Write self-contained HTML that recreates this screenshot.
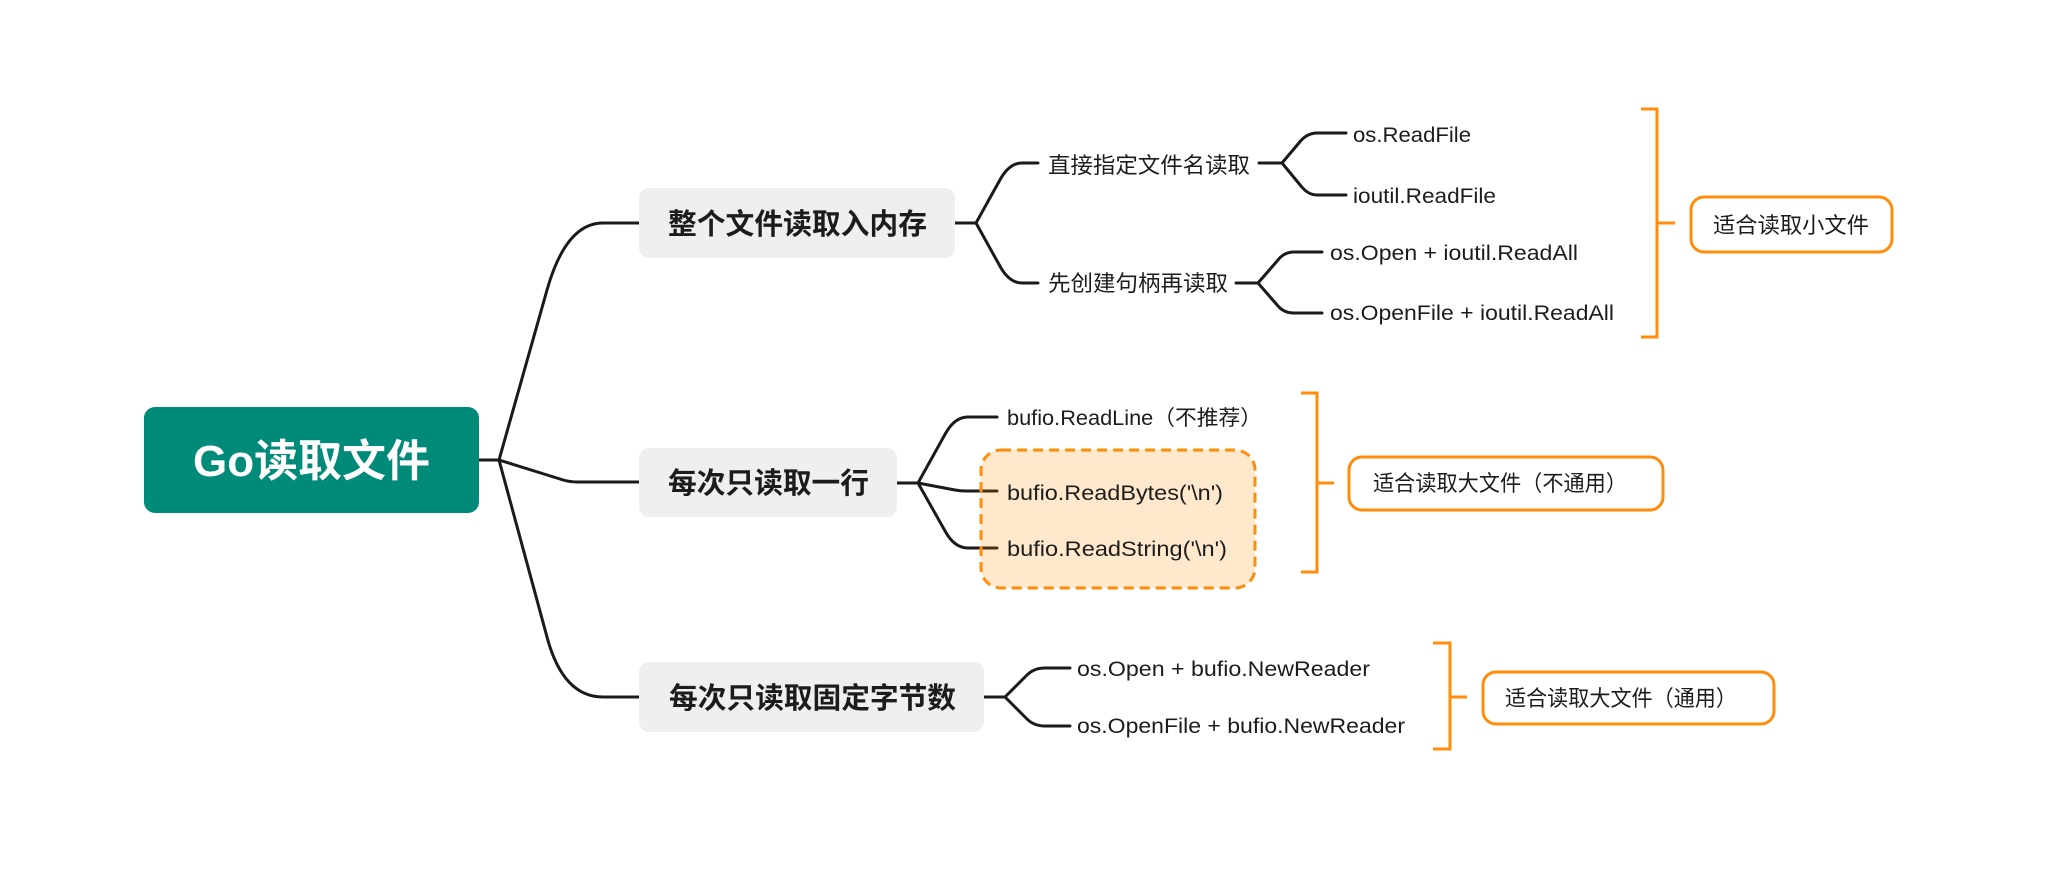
<!DOCTYPE html>
<html>
<head>
<meta charset="utf-8">
<style>
  html, body { margin: 0; padding: 0; background: #ffffff; }
  svg { display: block; }
  text { font-family: "Liberation Sans", "Noto Sans CJK SC", sans-serif; fill: #1c1c1c; }
</style>
</head>
<body>
<svg width="2054" height="880" viewBox="0 0 2054 880" xmlns="http://www.w3.org/2000/svg">
  <rect x="0" y="0" width="2054" height="880" fill="#ffffff"/>

  <!-- connectors -->
  <g fill="none" stroke="#1a1a1a" stroke-width="3" stroke-linecap="round" stroke-linejoin="round">
    <!-- root -->
    <path d="M479,460 H499"/>
    <path d="M499,460 L547,290 Q566,223 603,223 H639"/>
    <path d="M499,460 L560,479 Q568,482 578,482 H639"/>
    <path d="M499,460 L547,637 Q563,697 603,697 H639"/>

    <!-- branch 1 -->
    <path d="M955,223 H976"/>
    <path d="M976,223 L1001,178 Q1010,163 1022,163 H1038"/>
    <path d="M976,223 L1001,268 Q1010,283 1022,283 H1038"/>

    <path d="M1259,163 H1282"/>
    <path d="M1282,163 L1301,140.5 Q1308,133 1317,133 H1346"/>
    <path d="M1282,163 L1301,186 Q1308,195 1317,195 H1346"/>

    <path d="M1236,283 H1258"/>
    <path d="M1258,283 L1278,260 Q1284,252 1294,252 H1322"/>
    <path d="M1258,283 L1278,306 Q1284,313 1294,313 H1322"/>

    <!-- branch 2 -->
    <path d="M897,483 H918"/>
    <path d="M918,483 L945.5,433.5 Q954.6,417 968,417 H997"/>
    <path d="M918,483 L955,490 Q960,491 966,491 H997"/>
    <path d="M918,483 L945.5,531.75 Q954.6,548 968,548 H997"/>

    <!-- branch 3 -->
    <path d="M984,697 H1005"/>
    <path d="M1005,697 L1027,675 Q1034,668 1045,668 H1070"/>
    <path d="M1005,697 L1027,719 Q1034,726 1045,726 H1070"/>
  </g>

  <!-- root node -->
  <rect x="144" y="407" width="335" height="106" rx="11" ry="11" fill="#008a7a"/>
  <text x="193" y="476" font-size="44" font-weight="600" textLength="237" lengthAdjust="spacingAndGlyphs" style="fill:#ffffff">Go读取文件</text>

  <!-- level 1 nodes -->
  <rect x="639" y="188" width="316" height="70" rx="10" ry="10" fill="#efefef"/>
  <text x="668" y="234" font-size="29" font-weight="bold" textLength="259" lengthAdjust="spacingAndGlyphs">整个文件读取入内存</text>

  <rect x="639" y="448" width="258" height="69" rx="10" ry="10" fill="#efefef"/>
  <text x="668" y="493" font-size="29" font-weight="bold" textLength="201" lengthAdjust="spacingAndGlyphs">每次只读取一行</text>

  <rect x="639" y="662" width="345" height="70" rx="10" ry="10" fill="#efefef"/>
  <text x="669" y="708" font-size="29" font-weight="bold" textLength="287" lengthAdjust="spacingAndGlyphs">每次只读取固定字节数</text>

  <!-- level 2/3 text branch 1 -->
  <text x="1048" y="173" font-size="22" textLength="202" lengthAdjust="spacingAndGlyphs">直接指定文件名读取</text>
  <text x="1048" y="291" font-size="22" textLength="180" lengthAdjust="spacingAndGlyphs">先创建句柄再读取</text>
  <text x="1353" y="142" font-size="21" textLength="118" lengthAdjust="spacingAndGlyphs">os.ReadFile</text>
  <text x="1353" y="203" font-size="21" textLength="143" lengthAdjust="spacingAndGlyphs">ioutil.ReadFile</text>
  <text x="1330" y="260" font-size="21" textLength="248" lengthAdjust="spacingAndGlyphs">os.Open + ioutil.ReadAll</text>
  <text x="1330" y="320" font-size="21" textLength="284" lengthAdjust="spacingAndGlyphs">os.OpenFile + ioutil.ReadAll</text>

  <!-- dashed highlight box (drawn over lines) -->
  <rect x="981" y="450" width="274" height="138" rx="20" ry="20" fill="rgba(255,140,0,0.2)" stroke="#ff8c0a" stroke-width="3" stroke-dasharray="10 6"/>

  <!-- branch 2 texts -->
  <text x="1007" y="425" font-size="21" textLength="255" lengthAdjust="spacingAndGlyphs">bufio.ReadLine（不推荐）</text>
  <text x="1007" y="500" font-size="21" textLength="216" lengthAdjust="spacingAndGlyphs">bufio.ReadBytes('\n')</text>
  <text x="1007" y="556" font-size="21" textLength="220" lengthAdjust="spacingAndGlyphs">bufio.ReadString('\n')</text>

  <!-- branch 3 texts -->
  <text x="1077" y="676" font-size="21" textLength="293" lengthAdjust="spacingAndGlyphs">os.Open + bufio.NewReader</text>
  <text x="1077" y="733" font-size="21" textLength="328" lengthAdjust="spacingAndGlyphs">os.OpenFile + bufio.NewReader</text>

  <!-- brackets -->
  <g fill="none" stroke="#ff8c0a" stroke-width="3">
    <path d="M1641,109 H1657 V337 H1641"/>
    <path d="M1657,223 H1675"/>
    <path d="M1301,393 H1317 V572 H1301"/>
    <path d="M1317,483 H1334"/>
    <path d="M1433,643 H1450 V749 H1433"/>
    <path d="M1450,697 H1467"/>
  </g>

  <!-- summary boxes -->
  <rect x="1691" y="197" width="201" height="55" rx="13" ry="13" fill="#ffffff" stroke="#ff8c0a" stroke-width="3"/>
  <text x="1713" y="233" font-size="22" textLength="156" lengthAdjust="spacingAndGlyphs">适合读取小文件</text>

  <rect x="1349" y="457" width="314" height="53" rx="13" ry="13" fill="#ffffff" stroke="#ff8c0a" stroke-width="3"/>
  <text x="1373" y="491" font-size="22" textLength="254" lengthAdjust="spacingAndGlyphs">适合读取大文件（不通用）</text>

  <rect x="1483" y="672" width="291" height="52" rx="13" ry="13" fill="#ffffff" stroke="#ff8c0a" stroke-width="3"/>
  <text x="1505" y="706" font-size="22" textLength="232" lengthAdjust="spacingAndGlyphs">适合读取大文件（通用）</text>
</svg>
</body>
</html>
